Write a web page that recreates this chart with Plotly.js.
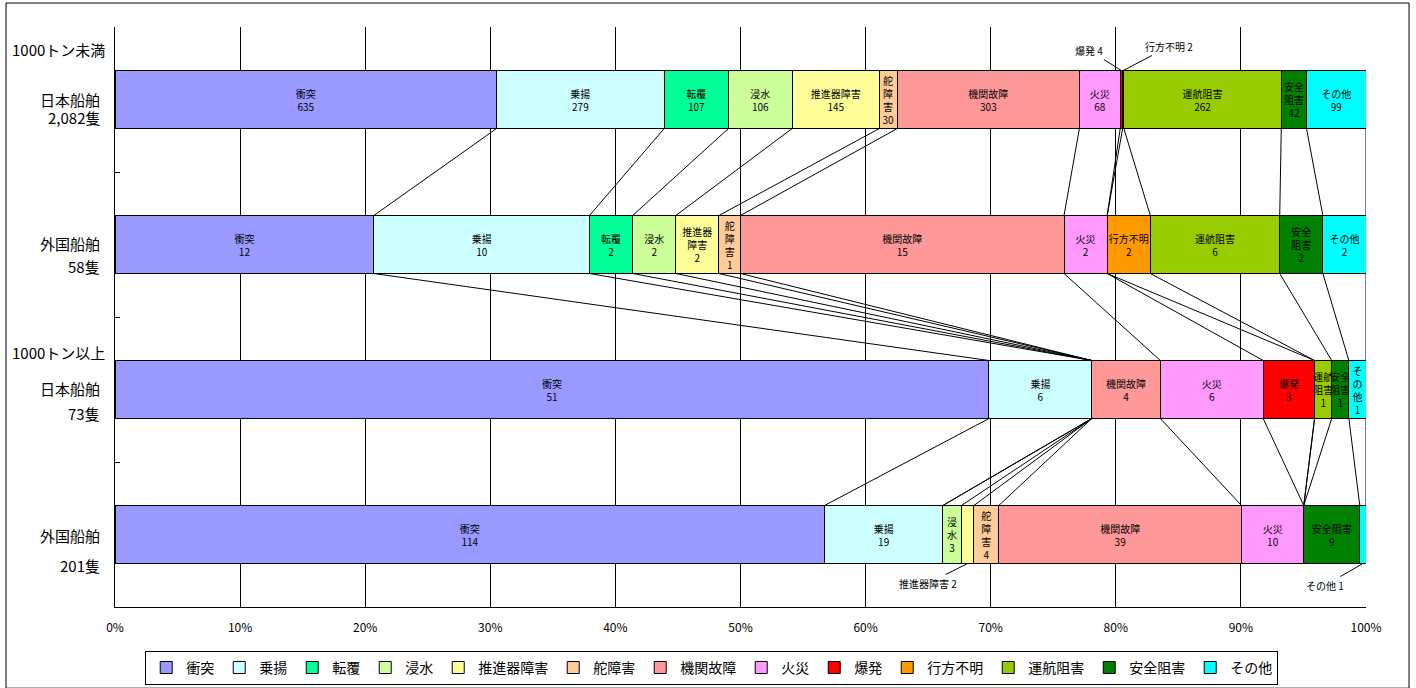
<!DOCTYPE html>
<html>
<head>
<meta charset="utf-8">
<script src="https://cdn.plot.ly/plotly-3.0.1.min.js"></script>
<style>
body { margin: 0; background: #fff; }
#chart { width: 1416px; height: 688px; }
</style>
</head>
<body>
<div id="chart"></div>
<script>
// accident types (stack order)
var categories = ['衝突', '乗揚', '転覆', '浸水', '推進器障害', '舵障害', '機関故障', '火災', '爆発', '行方不明', '運航阻害', '安全阻害', 'その他'];
var colors = ['#9999FF', '#CCFFFF', '#00FF99', '#CCFF99', '#FFFF99', '#FFCC99', '#FF9999', '#FF99FF', '#FF0000', '#FF9900', '#99CC00', '#008000', '#00FFFF'];

// rows, top to bottom
var groupLabels = ['1000トン未満', '', '1000トン以上', ''];
var rowNames = ['日本船舶', '外国船舶', '日本船舶', '外国船舶'];
var rowCounts = ['2,082隻', '58隻', '73隻', '201隻'];

var japanSmall   = [635, 279, 107, 106, 145, 30, 303, 68, 4, 2, 262, 42, 99];
var foreignSmall = [12, 10, 2, 2, 2, 1, 15, 2, 0, 2, 6, 2, 2];
var japanLarge   = [51, 6, 0, 0, 0, 0, 4, 6, 3, 0, 1, 1, 1];
var foreignLarge = [114, 19, 0, 3, 2, 4, 39, 10, 0, 0, 0, 9, 1];
var rows = [japanSmall, foreignSmall, japanLarge, foreignLarge];

// how the narrow segments wrap their name ("row,category")
var wrapNames = {
    '0,5': '舵<br>障<br>害', '0,11': '安全<br>阻害',
    '1,4': '推進器<br>障害', '1,5': '舵<br>障<br>害', '1,11': '安全<br>阻害',
    '2,10': '運航<br>阻害', '2,11': '安全<br>阻害', '2,12': 'そ<br>の<br>他',
    '3,3': '浸<br>水', '3,5': '舵<br>障<br>害'
};
// segments too thin for inside text, labelled outside with a leader line
var outsideLabels = [
    {row: 0, cat: 8, ax: -32, ay: -20},
    {row: 0, cat: 9, ax: 46, ay: -24},
    {row: 3, cat: 4, ax: -40, ay: 20},
    {row: 3, cat: 12, ax: -38, ay: 22}
];

var font = '"Noto Sans CJK JP", "Noto Sans", sans-serif';
var halfBar = 0.2;

function isOutside(r, c) {
    return outsideLabels.some(o => o.row === r && o.cat === c);
}

var traces = categories.map(function(cat, c) {
    return {
        type: 'bar',
        orientation: 'h',
        name: cat,
        y: rows.map((r, i) => i),
        x: rows.map(r => r[c]),
        width: 0.4,
        marker: {color: colors[c], line: {color: '#000', width: 1}},
        text: rows.map(function(r, i) {
            if (r[c] === 0 || isOutside(i, c)) return '';
            var nm = wrapNames[i + ',' + c] || cat;
            return nm + '<br>' + r[c];
        }),
        textposition: 'inside',
        insidetextanchor: 'middle',
        textangle: 0,
        constraintext: 'none',
        textfont: {family: font, size: 10, color: '#000'},
        hoverinfo: 'name+x'
    };
});

// cumulative percentage at the end of each category, per row
var cumEnds = rows.map(function(r) {
    var total = r.reduce((a, b) => a + b, 0);
    var s = 0;
    return r.map(function(v) { s += v; return s / total * 100; });
});

// series lines joining the same boundary on neighbouring rows
var lx = [], ly = [];
for (var i = 0; i < rows.length - 1; i++) {
    for (var c = 0; c < categories.length; c++) {
        lx.push(cumEnds[i][c], cumEnds[i + 1][c], null);
        ly.push(i + halfBar, i + 1 - halfBar, null);
    }
}
traces.push({
    type: 'scatter', mode: 'lines', x: lx, y: ly,
    line: {color: '#000', width: 1},
    showlegend: false, hoverinfo: 'skip'
});

var annotations = [];
rows.forEach(function(r, i) {
    var offs = [[-50, 0, 18], [0, -1, 23], [-37, -1, 25], [0, 1, 30]][i];
    if (groupLabels[i]) {
        annotations.push({xref: 'paper', yref: 'y', x: -0.006, y: i, yshift: -offs[0],
            text: groupLabels[i], showarrow: false, xanchor: 'right',
            font: {family: font, size: 15, color: '#000'}});
    }
    annotations.push({xref: 'paper', yref: 'y', x: -0.01, y: i, yshift: -offs[1],
        text: rowNames[i], showarrow: false, xanchor: 'right',
        font: {family: font, size: 15, color: '#000'}});
    annotations.push({xref: 'paper', yref: 'y', x: -0.01, y: i, yshift: -(offs[1] + offs[2]),
        text: rowCounts[i], showarrow: false, xanchor: 'right',
        font: {family: font, size: 15, color: '#000'}});
});

outsideLabels.forEach(function(o) {
    var r = rows[o.row];
    var start = o.cat === 0 ? 0 : cumEnds[o.row][o.cat - 1];
    var mid = (start + cumEnds[o.row][o.cat]) / 2;
    annotations.push({
        x: mid, y: o.row + (o.ay < 0 ? -halfBar : halfBar),
        text: categories[o.cat] + ' ' + r[o.cat],
        showarrow: true, arrowhead: 0, arrowwidth: 1, arrowcolor: '#000',
        ax: o.ax, ay: o.ay, standoff: 0,
        font: {family: font, size: 10, color: '#000'}
    });
});

var layout = {
    width: 1416,
    height: 688,
    margin: {l: 115, r: 50, t: 27, b: 81, autoexpand: false},
    barmode: 'stack',
    barnorm: 'percent',
    paper_bgcolor: '#fff',
    plot_bgcolor: '#fff',
    font: {family: font, color: '#000'},
    xaxis: {
        range: [0, 100], dtick: 10, ticksuffix: '%',
        showgrid: true, gridcolor: '#000', gridwidth: 1,
        showline: true, linecolor: '#000', linewidth: 1,
        zeroline: false, ticks: '', ticklabelstandoff: 10,
        tickfont: {family: font, size: 12, color: '#000'},
        fixedrange: true
    },
    yaxis: {
        range: [3.5, -0.5],
        tickvals: [-0.5, 0.5, 1.5, 2.5, 3.5],
        showticklabels: false,
        ticks: 'inside', ticklen: 5, tickcolor: '#000',
        showgrid: false, zeroline: false,
        showline: true, linecolor: '#000', linewidth: 1,
        fixedrange: true
    },
    legend: {
        orientation: 'h', traceorder: 'normal',
        x: 0.477, xanchor: 'center',
        y: -0.105, yanchor: 'middle',
        bordercolor: '#000', borderwidth: 1,
        font: {family: font, size: 14, color: '#000'}
    },
    annotations: annotations,
    shapes: [{
        type: 'rect', xref: 'paper', yref: 'paper',
        x0: -0.0871, x1: 1.0344, y0: -0.14, y1: 1.0414,
        line: {color: '#000', width: 1}
    }]
};

Plotly.newPlot('chart', traces, layout, {displayModeBar: false, staticPlot: true});
</script>
</body>
</html>
